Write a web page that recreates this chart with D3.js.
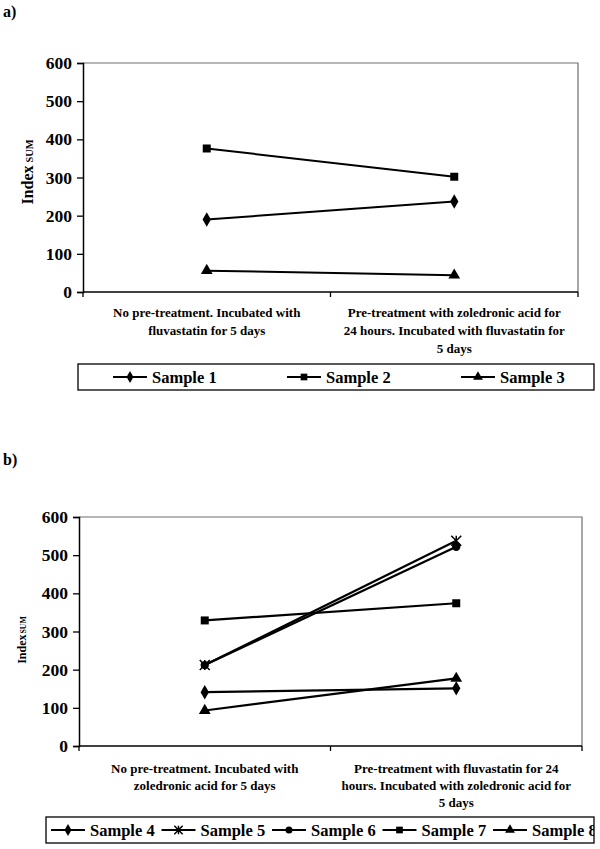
<!DOCTYPE html>
<html><head><meta charset="utf-8">
<script src="https://cdn.jsdelivr.net/npm/d3@7"></script>
<style>body{margin:0;background:#fff}svg{display:block}</style>
</head><body>
<svg id="c" width="600" height="849"></svg>
<script>
// ---------- data ----------
const yTicks = [0, 100, 200, 300, 400, 500, 600];

const categoriesA = [
  ["No pre-treatment. Incubated with", "fluvastatin for 5 days"],
  ["Pre-treatment with zoledronic acid for", "24 hours. Incubated with fluvastatin for", "5 days"]
];
const seriesNamesA = ["Sample 1", "Sample 2", "Sample 3"];
const markersA = ["diamond", "square", "triangle"];
const sample1 = [190, 237];
const sample2 = [376, 302];
const sample3 = [56, 44];

const categoriesB = [
  ["No pre-treatment. Incubated with", "zoledronic acid for 5 days"],
  ["Pre-treatment with fluvastatin for 24", "hours. Incubated with zoledronic acid for", "5 days"]
];
const seriesNamesB = ["Sample 4", "Sample 5", "Sample 6", "Sample 7", "Sample 8"];
const markersB = ["diamond", "star", "circle", "square", "triangle"];
const sample4 = [141, 151];
const sample5 = [212, 538];
const sample6 = [212, 522];
const sample7 = [329, 374];
const sample8 = [93, 177];

// ---------- drawing ----------
const svg = d3.select("#c");
const FONT = "'Liberation Serif','Times New Roman',serif";

function marker(g, type, x, y, scale) {
  const s = scale || 1;
  if (type === "diamond") {
    g.append("path").attr("d", d3.symbol(d3.symbolDiamond, 60 * s)()).attr("transform", `translate(${x},${y})`).attr("fill", "#000");
  } else if (type === "square") {
    g.append("path").attr("d", d3.symbol(d3.symbolSquare, 64 * s)()).attr("transform", `translate(${x},${y})`).attr("fill", "#000");
  } else if (type === "triangle") {
    g.append("path").attr("d", d3.symbol(d3.symbolTriangle, 60 * s)()).attr("transform", `translate(${x},${y})`).attr("fill", "#000");
  } else if (type === "circle") {
    g.append("path").attr("d", d3.symbol(d3.symbolCircle, 55 * s)()).attr("transform", `translate(${x},${y})`).attr("fill", "#000");
  } else if (type === "star") {
    const r = 5 * Math.sqrt(s);
    const p = d3.path();
    p.moveTo(x, y - r); p.lineTo(x, y + r);
    p.moveTo(x - r, y - r); p.lineTo(x + r, y + r);
    p.moveTo(x - r, y + r); p.lineTo(x + r, y - r);
    g.append("path").attr("d", p.toString()).attr("stroke", "#000").attr("stroke-width", 1.5).attr("fill", "none");
  }
}

function drawChart(cfg) {
  const g = svg.append("g");
  const {left, right, top, bottom} = cfg;
  const x = d3.scaleBand().domain(cfg.categories.map((d, i) => i)).range([left, right]).paddingInner(0).paddingOuter(0);
  const y = d3.scaleLinear().domain([0, 600]).range([bottom, top]);

  // panel label
  g.append("text").attr("x", 3).attr("y", cfg.labelY).text(cfg.panel)
    .attr("font-family", FONT).attr("font-weight", "bold").attr("font-size", 16);

  // plot frame (top/right grey)
  g.append("path").attr("d", `M${left},${top}H${right}V${bottom}`).attr("fill", "none")
    .attr("stroke", "#6e6e6e").attr("stroke-width", 1.2);

  // y axis
  const ya = g.append("g").attr("transform", `translate(${left},0)`)
    .call(d3.axisLeft(y).tickValues(yTicks).tickSize(6).tickPadding(5).tickFormat(d3.format("d")));
  ya.select(".domain").attr("stroke", "#000").attr("stroke-width", 1.5);
  ya.selectAll(".tick line").attr("stroke", "#000").attr("stroke-width", 1.3);
  ya.selectAll(".tick text").attr("font-family", FONT).attr("font-weight", "bold").attr("font-size", 17.5).attr("fill", "#000");

  // x axis
  g.append("line").attr("x1", left).attr("x2", right).attr("y1", bottom).attr("y2", bottom)
    .attr("stroke", "#000").attr("stroke-width", 1.5);
  const bounds = cfg.categories.map((d, i) => x(i)).concat([x(cfg.categories.length - 1) + x.bandwidth()]);
  g.selectAll(".xt").data(bounds).enter().append("line")
    .attr("x1", d => d).attr("x2", d => d).attr("y1", bottom).attr("y2", bottom + 5)
    .attr("stroke", "#000").attr("stroke-width", 1.3);

  // category labels
  cfg.categories.forEach((lines, i) => {
    const cx = x(i) + x.bandwidth() / 2;
    const t = g.append("text").attr("text-anchor", "middle")
      .attr("font-family", FONT).attr("font-weight", "bold").attr("font-size", cfg.catFont);
    lines.forEach((ln, j) => {
      t.append("tspan").attr("x", cx).attr("y", bottom + cfg.catY + j * cfg.catLH).text(ln);
    });
  });

  // y title
  const yt = g.append("text").attr("transform", `translate(${cfg.yTitleX},${cfg.yTitleY}) rotate(-90)`)
    .attr("text-anchor", "middle").attr("font-family", FONT).attr("font-weight", "bold");
  yt.append("tspan").attr("font-size", cfg.yTitleFont).text("Index");
  yt.append("tspan").attr("font-size", cfg.yTitleFont * 0.65).attr("dx", cfg.subGap).text("SUM");

  // series
  const line = d3.line().x((d, i) => x(i) + x.bandwidth() / 2).y(d => y(d));
  cfg.series.forEach((vals, k) => {
    g.append("path").attr("d", line(vals)).attr("fill", "none").attr("stroke", "#000").attr("stroke-width", cfg.lineW);
  });
  cfg.series.forEach((vals, k) => {
    vals.forEach((v, i) => marker(g, cfg.markers[k], x(i) + x.bandwidth() / 2, y(v), 1));
  });

  // legend
  const L = cfg.legend;
  const clipId = "clip" + cfg.panel.replace(")", "");
  svg.append("clipPath").attr("id", clipId).append("rect")
    .attr("x", L.x0).attr("y", L.y0).attr("width", L.x1 - L.x0).attr("height", L.y1 - L.y0);
  const lg = g.append("g");
  lg.append("rect").attr("x", L.x0).attr("y", L.y0).attr("width", L.x1 - L.x0).attr("height", L.y1 - L.y0)
    .attr("fill", "#fff").attr("stroke", "#000").attr("stroke-width", 1.3);
  const inner = lg.append("g").attr("clip-path", `url(#${clipId})`);
  const cy = (L.y0 + L.y1) / 2;
  cfg.names.forEach((nm, k) => {
    const sx = L.start + k * L.step;
    inner.append("line").attr("x1", sx).attr("x2", sx + 34).attr("y1", cy).attr("y2", cy)
      .attr("stroke", "#000").attr("stroke-width", 2);
    marker(inner, cfg.markers[k], sx + 17, cy, 0.7);
    inner.append("text").attr("x", sx + 39).attr("y", cy + 6).text(nm)
      .attr("font-family", FONT).attr("font-weight", "bold").attr("font-size", 16.5);
  });
}

drawChart({
  panel: "a)", labelY: 17,
  left: 83, right: 578, top: 63, bottom: 292,
  categories: categoriesA,
  catFont: 13, catY: 25, catLH: 18,
  yTitleX: 33, yTitleY: 172, yTitleFont: 16, subGap: 3,
  series: [sample1, sample2, sample3], markers: markersA, names: seriesNamesA,
  lineW: 2,
  legend: {x0: 78, x1: 594, y0: 364, y1: 390, start: 113, step: 174}
});

drawChart({
  panel: "b)", labelY: 465,
  left: 79, right: 582, top: 517, bottom: 746,
  categories: categoriesB,
  catFont: 13, catY: 27, catLH: 17,
  yTitleX: 26, yTitleY: 640, yTitleFont: 12, subGap: 1,
  series: [sample4, sample5, sample6, sample7, sample8], markers: markersB, names: seriesNamesB,
  lineW: 2.2,
  legend: {x0: 46, x1: 594, y0: 817, y1: 843, start: 51, step: 110.5}
});
</script>
</body></html>
